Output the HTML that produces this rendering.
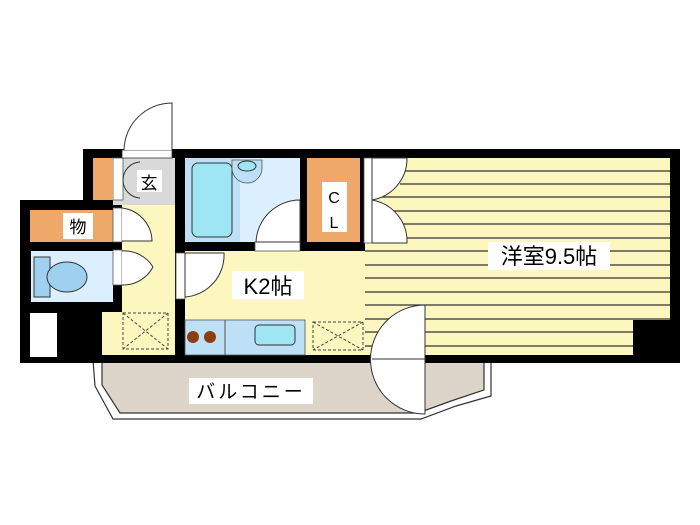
<!DOCTYPE html>
<html><head><meta charset="utf-8"><style>body{margin:0;background:#fff}svg{display:block}text{font-family:"Liberation Sans","Noto Sans CJK JP",sans-serif}</style></head>
<body>
<svg width="700" height="525" viewBox="0 0 700 525" xmlns="http://www.w3.org/2000/svg">
<polygon points="93,360 95,386 113,419 421,419 456,406 491,396 491,360" fill="#fff" stroke="#333" stroke-width="1.2"/>
<polygon points="102,360 102,385 120,413 418,413 451,401 484,390 484,360" fill="#ddd5ca" stroke="#333" stroke-width="1.2"/>
<rect x="83" y="149" width="597" height="214" fill="#000"/>
<rect x="20" y="200" width="90" height="163" fill="#000"/>
<rect x="365" y="158" width="305" height="197" fill="#fbf7be"/>
<g stroke="#333" stroke-width="1.2">
<line x1="405" y1="171" x2="670" y2="171"/><line x1="400" y1="184" x2="670" y2="184"/><line x1="380" y1="197" x2="670" y2="197"/><line x1="380" y1="211" x2="670" y2="211"/><line x1="400" y1="224" x2="670" y2="224"/><line x1="405" y1="238" x2="670" y2="238"/><line x1="365" y1="251" x2="670" y2="251"/><line x1="365" y1="265" x2="670" y2="265"/><line x1="365" y1="278" x2="670" y2="278"/><line x1="365" y1="292" x2="670" y2="292"/><line x1="365" y1="305" x2="670" y2="305"/><line x1="365" y1="319" x2="670" y2="319"/><line x1="365" y1="332" x2="670" y2="332"/><line x1="365" y1="346" x2="670" y2="346"/>
</g>
<rect x="633" y="320" width="37" height="35" fill="#000"/>
<rect x="185" y="251" width="180" height="104" fill="#fbf7be"/>
<rect x="185" y="320" width="120" height="35" fill="#bde0f7" stroke="#555" stroke-width="0.8"/>
<line x1="225" y1="320" x2="225" y2="355" stroke="#555"/>
<circle cx="193" cy="337" r="6" fill="#8b3f10"/><circle cx="210" cy="337" r="6" fill="#8b3f10"/>
<rect x="255" y="325" width="40" height="20" rx="4" fill="#9fe6f5" stroke="#333"/>
<rect x="313" y="322" width="50" height="28" fill="none" stroke="#444" stroke-dasharray="3,2"/>
<path d="M313 322L363 350M363 322L313 350" stroke="#444" stroke-dasharray="3,2"/>
<rect x="122" y="205" width="53" height="150" fill="#fbf7be"/>
<rect x="102" y="312" width="73" height="43" fill="#fbf7be"/>
<rect x="123" y="313" width="45" height="36" fill="none" stroke="#444" stroke-dasharray="3,2"/>
<path d="M123 313L168 349M168 313L123 349" stroke="#444" stroke-dasharray="3,2"/>
<rect x="113" y="158" width="62" height="47" fill="#d9d9d9"/>
<rect x="113" y="158" width="10" height="42" fill="#fff" stroke="#555" stroke-width="0.8"/>
<path d="M123 180 A18 18 0 0 1 140 162 M123 180 A18 18 0 0 0 140 198" fill="none" stroke="#333"/>
<rect x="137" y="170" width="25" height="22" fill="#fff"/>
<text x="149" y="189" font-size="17" text-anchor="middle">玄</text>
<rect x="93" y="158" width="20" height="42" fill="#eda86a"/>
<rect x="122" y="150" width="50" height="8" fill="#fff" stroke="#333" stroke-width="0.8"/>
<path d="M172 150 L172 103 A48 48 0 0 0 124 150" fill="#fff" stroke="#333"/>
<rect x="30" y="210" width="83" height="32" fill="#eda86a"/>
<rect x="63" y="213" width="30" height="26" fill="#fff"/>
<text x="78" y="233" font-size="17" text-anchor="middle">物</text>
<rect x="31" y="251" width="82" height="51" fill="#dcefff"/>
<rect x="34" y="257" width="16" height="40" fill="#9fd0f0" stroke="#333"/>
<ellipse cx="67" cy="277" rx="20" ry="15" fill="#9fd0f0" stroke="#333"/>
<rect x="30" y="313" width="27" height="44" fill="#fff"/>
<rect x="113" y="208" width="9" height="34" fill="#fff" stroke="#555" stroke-width="0.8"/>
<path d="M122 208 A34 34 0 0 1 152 241 L122 241" fill="#fff" stroke="#333"/>
<rect x="113" y="250" width="9" height="35" fill="#fff" stroke="#555" stroke-width="0.8"/>
<path d="M122 251 A34 34 0 0 1 153 267 A34 34 0 0 1 122 285" fill="#fff" stroke="#333"/>
<rect x="185" y="158" width="115" height="84" fill="#dcefff"/>
<rect x="185" y="158" width="55" height="84" fill="#bde0f7"/>
<rect x="192" y="163" width="40" height="74" rx="6" fill="#9fe6f5" stroke="#333"/>
<path d="M232 160 L262 160 L262 168 A15 15 0 0 1 232 168 Z" fill="#bde0f7" stroke="#555" stroke-width="0.8"/>
<ellipse cx="247" cy="166" rx="9" ry="5" fill="#9fe6f5" stroke="#333"/>
<rect x="255" y="242" width="45" height="9" fill="#fff" stroke="#555" stroke-width="0.8"/>
<path d="M256 242 A44 44 0 0 1 300 200 L300 242 Z" fill="#fff" stroke="#333"/>
<rect x="176" y="253" width="9" height="46" fill="#fff" stroke="#555" stroke-width="0.8"/>
<path d="M185 253 L224 253 A42 42 0 0 1 185 297 Z" fill="#fff" stroke="#333"/>
<rect x="307" y="158" width="53" height="84" fill="#eda86a"/>
<rect x="322" y="182" width="25" height="50" fill="#fff"/>
<text x="334" y="203" font-size="16" text-anchor="middle">C</text>
<text x="334" y="228" font-size="16" text-anchor="middle">L</text>
<rect x="364" y="158" width="8" height="85" fill="#fff" stroke="#555" stroke-width="0.8"/>
<path d="M372 158 L407 158 A42 42 0 0 1 372 200 A42 42 0 0 1 407 243 L372 243 Z" fill="#fff" stroke="#333"/>
<rect x="371" y="355" width="54" height="8" fill="#fff"/>
<path d="M425 305 A53 53 0 0 0 425 414 Z" fill="#fff" stroke="#333"/>
<line x1="372" y1="359" x2="425" y2="359" stroke="#333"/>
<rect x="232" y="271" width="72" height="28" fill="#fff"/>
<text x="268" y="294" font-size="22" text-anchor="middle">K2帖</text>
<rect x="488" y="242" width="122" height="28" fill="#fff"/>
<text x="549" y="264" font-size="22" text-anchor="middle">洋室9.5帖</text>
<rect x="189" y="378" width="124" height="26" fill="#fff"/>
<text x="251" y="398" font-size="19" text-anchor="middle" letter-spacing="3">バルコニー</text>
</svg>
</body></html>
